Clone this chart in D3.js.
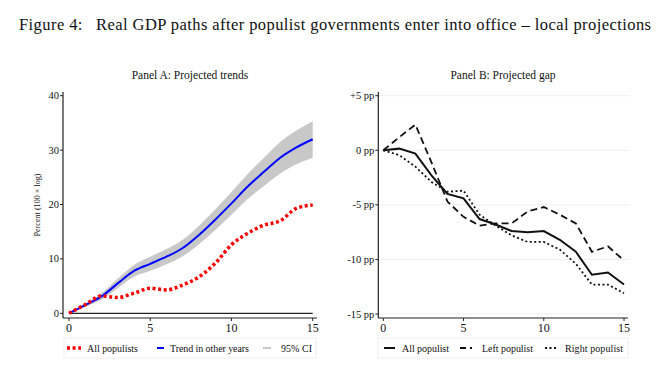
<!DOCTYPE html>
<html><head><meta charset="utf-8">
<script src="https://cdn.jsdelivr.net/npm/d3@7"></script>
<style>body{margin:0;background:#fff}svg{display:block}</style>
</head><body>
<svg id="c" width="666" height="369"></svg>
<script>
const years = d3.range(0, 16);
// Panel A
const allPopulists = [0,1.6,3.2,2.9,3.7,4.6,4.3,5.2,6.7,9.2,12.6,14.7,16.2,17.0,19.3,19.9];
const trendOther   = [0,1.5,3.1,5.5,7.8,9.1,10.4,12.0,14.4,17.2,20.2,23.3,26.0,28.6,30.5,32.0];
const ciLower      = [0,1.2,2.5,4.6,6.7,7.8,9.0,10.5,12.7,15.3,18.1,21.0,23.4,25.7,27.4,28.6];
const ciUpper      = [0,1.8,3.7,6.4,8.9,10.4,11.8,13.5,16.1,19.1,22.3,25.6,28.6,31.5,33.6,35.3];
const yTicksA = [0,10,20,30,40];
const xTicks = [0,5,10,15];
// Panel B
const allPopulist   = [0,0.15,-0.3,-2.3,-4.0,-4.4,-6.3,-6.8,-7.4,-7.5,-7.4,-8.2,-9.3,-11.4,-11.2,-12.3];
const leftPopulist  = [0,1.2,2.35,-1.1,-4.7,-6.1,-6.9,-6.7,-6.7,-5.6,-5.2,-5.9,-6.7,-9.3,-8.8,-10.1];
const rightPopulist = [0,-0.45,-1.5,-2.9,-3.8,-3.7,-5.9,-6.9,-7.8,-8.4,-8.4,-9.1,-10.4,-12.3,-12.3,-13.1];
const yTicksB = [5,0,-5,-10,-15];
const yTickLabelsB = ["+5 pp","0 pp","-5 pp","-10 pp","-15 pp"];

const FONT = "Liberation Serif";
const svg = d3.select("#c");
function txt(g, x, y, s, size, anchor){
  return g.append("text").attr("x",x).attr("y",y).attr("text-anchor",anchor||"start")
    .attr("font-family",FONT).attr("font-size",size).attr("fill","#111").text(s);
}
txt(svg, 335, 30, "Figure 4:\u2002 Real GDP paths after populist governments enter into office \u2013 local projections", 16.5, "middle")
  .attr("textLength",632).attr("lengthAdjust","spacing");

function axes(g, x, y, yTicks, yFmt, axX, axY, xr, yr){
  g.append("line").attr("x1",axX).attr("x2",axX).attr("y1",yr[0]).attr("y2",yr[1]).attr("stroke","#222").attr("stroke-width",1.2);
  g.append("line").attr("x1",xr[0]).attr("x2",xr[1]).attr("y1",axY).attr("y2",axY).attr("stroke","#222").attr("stroke-width",1.2);
  yTicks.forEach((t,i)=>{
    g.append("line").attr("x1",axX-3).attr("x2",axX).attr("y1",y(t)).attr("y2",y(t)).attr("stroke","#222");
    txt(g, axX-4, y(t)+3.5, yFmt(t,i), 10.5, "end");
  });
  xTicks.forEach(t=>{
    g.append("line").attr("x1",x(t)).attr("x2",x(t)).attr("y1",axY).attr("y2",axY+3).attr("stroke","#222");
    txt(g, x(t), axY+14, t, 12, "middle");
  });
}

// Panel A
const xA = d3.scaleLinear().domain([0,15]).range([69,312.7]);
const yA = d3.scaleLinear().domain([0,40]).range([313.3,95.7]);
const gA = svg.append("g");
txt(gA, 190, 79, "Panel A: Projected trends", 11.5, "middle");
gA.append("path").datum(years).attr("fill","#c8c8c8")
  .attr("d", d3.area().x(d=>xA(d)).y0(d=>yA(ciLower[d])).y1(d=>yA(ciUpper[d])).curve(d3.curveMonotoneX));
gA.append("line").attr("x1",xA(0)).attr("x2",xA(15)).attr("y1",yA(0)).attr("y2",yA(0)).attr("stroke","#222").attr("stroke-width",1.2);
gA.append("path").datum(years).attr("fill","none").attr("stroke","#0000ff").attr("stroke-width",2)
  .attr("d", d3.line().x(d=>xA(d)).y(d=>yA(trendOther[d])).curve(d3.curveMonotoneX));
gA.append("path").datum(years).attr("fill","none").attr("stroke","#ff0000").attr("stroke-width",3.5).attr("stroke-dasharray","3,2.6")
  .attr("d", d3.line().x(d=>xA(d)).y(d=>yA(allPopulists[d])).curve(d3.curveMonotoneX));
axes(gA, xA, yA, yTicksA, t=>t, 63, 318, [63,317], [92,318]);
txt(gA, 0, 0, "Percent (100 \u00d7 log)", 9, "middle").attr("textLength",63).attr("lengthAdjust","spacingAndGlyphs")
  .attr("transform","translate(40,205) rotate(-90)");

// Legend A
gA.append("rect").attr("x",64).attr("y",338).attr("width",252).attr("height",20).attr("fill","none").attr("stroke","#eee");
gA.append("line").attr("x1",67).attr("x2",81).attr("y1",348).attr("y2",348).attr("stroke","#ff0000").attr("stroke-width",3.5).attr("stroke-dasharray","3,2.6");
txt(gA, 87, 351.5, "All populists", 10).attr("textLength",51);
gA.append("line").attr("x1",157).attr("x2",164).attr("y1",348).attr("y2",348).attr("stroke","#0000ff").attr("stroke-width",2);
txt(gA, 170, 351.5, "Trend in other years", 10).attr("textLength",79);
gA.append("line").attr("x1",263).attr("x2",271).attr("y1",348).attr("y2",348).attr("stroke","#c8c8c8").attr("stroke-width",2);
txt(gA, 281, 351.5, "95% CI", 10).attr("textLength",31);

// Panel B
const xB = d3.scaleLinear().domain([0,15]).range([383.3,624]);
const yB = d3.scaleLinear().domain([-15,5]).range([314,95.7]);
const gB = svg.append("g");
txt(gB, 503, 79, "Panel B: Projected gap", 11.5, "middle");
yTicksB.forEach(t=>{
  gB.append("line").attr("x1",379).attr("x2",630).attr("y1",yB(t)).attr("y2",yB(t)).attr("stroke","#efefef").attr("stroke-width",1);
});
const lineB = arr => d3.line().x(d=>xB(d)).y(d=>yB(arr[d]));
gB.append("path").datum(years).attr("fill","none").attr("stroke","#111").attr("stroke-width",1.8).attr("stroke-dasharray","7,4").attr("d", lineB(leftPopulist));
gB.append("path").datum(years).attr("fill","none").attr("stroke","#111").attr("stroke-width",1.8).attr("stroke-dasharray","2,2.5").attr("d", lineB(rightPopulist));
gB.append("path").datum(years).attr("fill","none").attr("stroke","#111").attr("stroke-width",2).attr("d", lineB(allPopulist));
axes(gB, xB, yB, yTicksB, (t,i)=>yTickLabelsB[i], 378.3, 318, [378,628], [92,318]);

// Legend B
gB.append("rect").attr("x",378).attr("y",338).attr("width",250).attr("height",20).attr("fill","none").attr("stroke","#eee");
gB.append("line").attr("x1",384).attr("x2",395).attr("y1",348).attr("y2",348).attr("stroke","#111").attr("stroke-width",2);
txt(gB, 402, 351.5, "All populist", 10).attr("textLength",47);
gB.append("line").attr("x1",460).attr("x2",472).attr("y1",348).attr("y2",348).attr("stroke","#111").attr("stroke-width",1.8).attr("stroke-dasharray","6,4");
txt(gB, 482, 351.5, "Left populist", 10).attr("textLength",51);
gB.append("line").attr("x1",545).attr("x2",556).attr("y1",348).attr("y2",348).attr("stroke","#111").attr("stroke-width",1.8).attr("stroke-dasharray","2,2.5");
txt(gB, 565, 351.5, "Right populist", 10).attr("textLength",58);
</script>
</body></html>
